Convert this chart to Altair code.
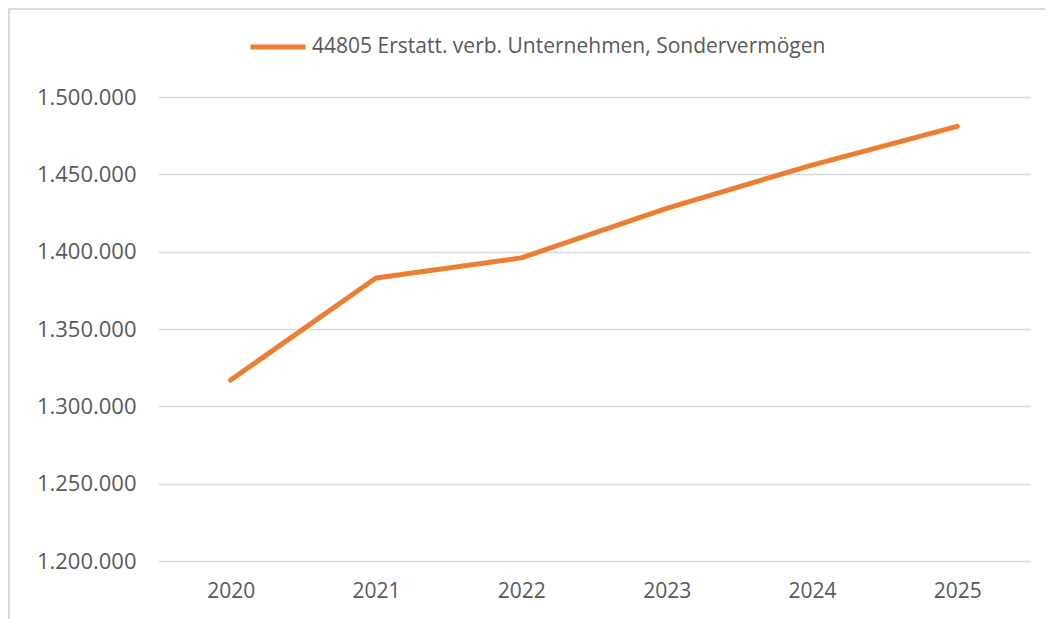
import altair as alt
import pandas as pd

years = ["2020", "2021", "2022", "2023", "2024", "2025"]
values = [1317000, 1383000, 1396000, 1428000, 1456000, 1481000]
series_name = "44805 Erstatt. verb. Unternehmen, Sondervermögen"
y_ticks = [1200000, 1250000, 1300000, 1350000, 1400000, 1450000, 1500000]

df = pd.DataFrame({"Jahr": years, "Wert": values, "Reihe": [series_name] * len(years)})

FONT = "Open Sans"
GRAY = "#595959"
GRID = "#D9D9D9"
ORANGE = "#ED7D31"

line = alt.Chart(df).mark_line(strokeWidth=5, strokeCap="round", strokeJoin="round").encode(
    x=alt.X("Jahr:O", scale=alt.Scale(type="point", padding=0.5),
            axis=alt.Axis(title=None, labelAngle=0, domain=False, ticks=False, labelPadding=19,
                          labelFontSize=21, labelColor=GRAY, labelFont=FONT, grid=False)),
    y=alt.Y("Wert:Q", scale=alt.Scale(domain=[1200000, 1500000], nice=False, zero=False),
            axis=alt.Axis(title=None, values=y_ticks,
                          labelExpr="replace(format(datum.value, ','), regexp(',', 'g'), '.')",
                          domain=False, ticks=False, labelPadding=22, grid=True,
                          gridColor=GRID, gridWidth=1.5, labelFontSize=22,
                          labelColor=GRAY, labelFont=FONT)),
    color=alt.Color("Reihe:N", scale=alt.Scale(range=[ORANGE]),
                    legend=alt.Legend(title=None, orient="none", legendX=90, legendY=-80,
                                      symbolType="stroke", symbolSize=3025, symbolStrokeWidth=5,
                                      labelFontSize=21, labelFont=FONT, labelColor=GRAY,
                                      labelOffset=4, labelLimit=0)),
)

frame_data = alt.Data(values=[{"k": 1}])
left_border = alt.Chart(frame_data).mark_rule(color=GRID, strokeWidth=2).encode(
    x=alt.value(-149), y=alt.value(-89), y2=alt.value(580))
top_border = alt.Chart(frame_data).mark_rule(color=GRID, strokeWidth=2).encode(
    x=alt.value(-149), x2=alt.value(900), y=alt.value(-88))

chart = alt.layer(left_border, top_border, line).properties(
    width=872, height=464,
    autosize=alt.AutoSizeParams(type="none"),
    padding={"left": 150, "top": 89, "right": 15, "bottom": 58},
).configure_view(stroke=None)

chart.save("out.html", embed_options={"renderer": "svg", "actions": False})
